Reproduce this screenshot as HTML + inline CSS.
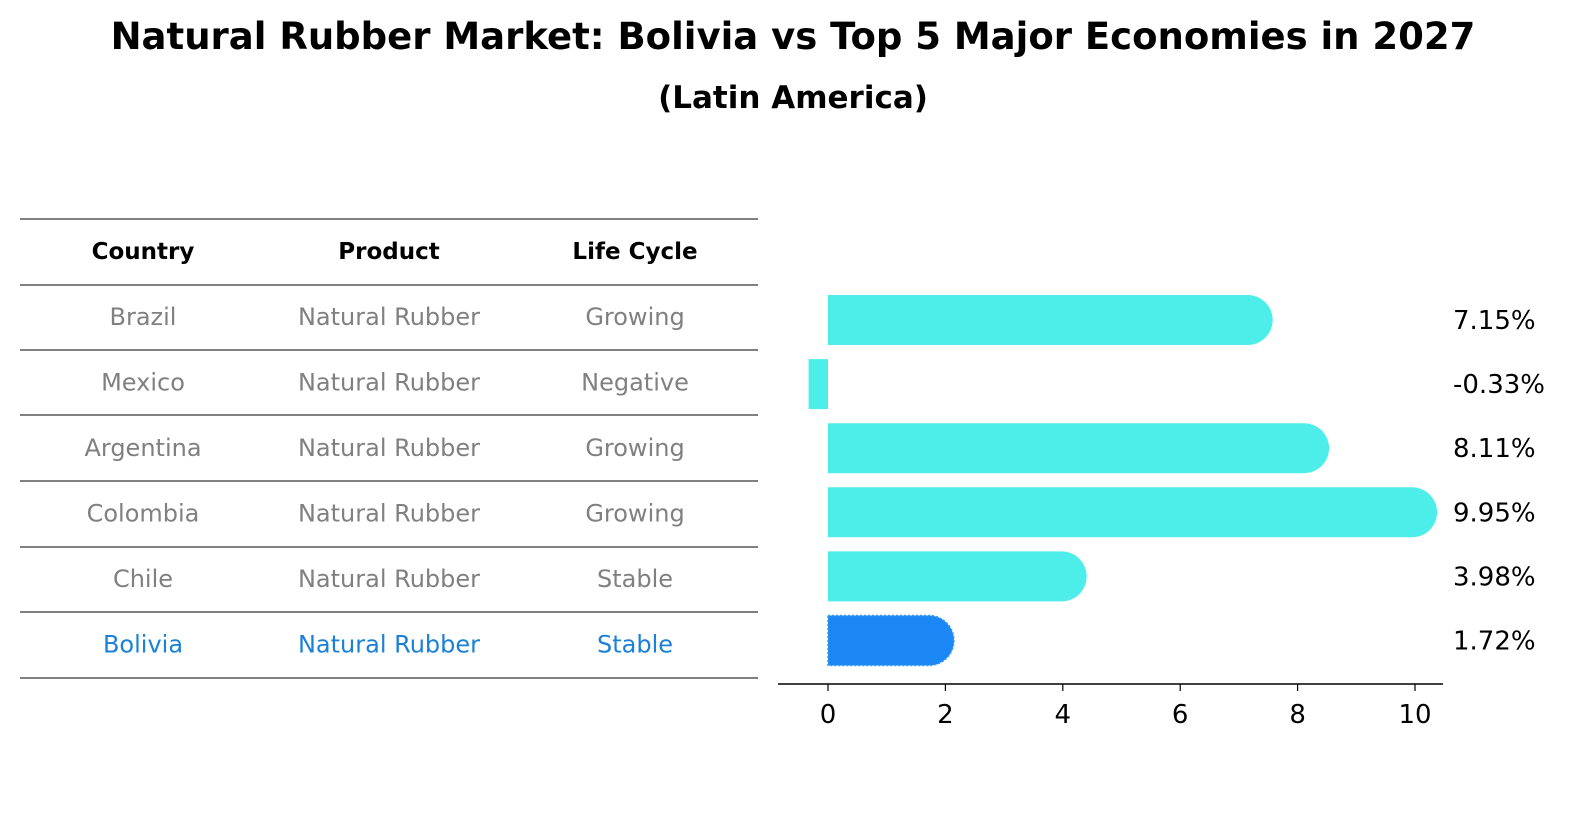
<!DOCTYPE html>
<html><head><meta charset="utf-8"><style>
body{margin:0;background:#fff;font-family:"Liberation Sans","DejaVu Sans",sans-serif;}
svg text{font-family:"DejaVu Sans","Liberation Sans",sans-serif;}
</style></head><body>
<svg width="1596" height="823" viewBox="0 0 1596 823" xmlns="http://www.w3.org/2000/svg">
<text x="793" y="49" text-anchor="middle" font-size="37" font-weight="bold">Natural Rubber Market: Bolivia vs Top 5 Major Economies in 2027</text>
<text x="793" y="108" text-anchor="middle" font-size="31" font-weight="bold">(Latin America)</text>
<g id="table"></g>
<g id="bars"></g>
</svg>
<script>
const countries=["Brazil","Mexico","Argentina","Colombia","Chile","Bolivia"];
const products=["Natural Rubber","Natural Rubber","Natural Rubber","Natural Rubber","Natural Rubber","Natural Rubber"];
const lifeCycles=["Growing","Negative","Growing","Growing","Stable","Stable"];
const values=[7.15,-0.33,8.11,9.95,3.98,1.72];
const ticks=[0,2,4,6,8,10];
const NS="http://www.w3.org/2000/svg";
function mk(t,a,p){const e=document.createElementNS(NS,t);for(const k in a)e.setAttribute(k,a[k]);p.appendChild(e);return e;}
const tbl=document.getElementById('table');
const lineYs=[219,285,350,415,481,547,612,678];
lineYs.forEach(y=>{const l=mk('line',{x1:20,x2:758,y1:y,y2:y,stroke:'#000','stroke-width':1},tbl);

});
const colX=[143,389,635];
["Country","Product","Life Cycle"].forEach((h,i)=>{const t=mk('text',{x:colX[i],y:259,'text-anchor':'middle','font-size':23,'font-weight':'bold'},tbl);t.textContent=h;

});
countries.forEach((c,r)=>{const y=325+r*65.5;const col=c==="Bolivia"?'#1a80d8':'#808080';
[c,products[r],lifeCycles[r]].forEach((v,i)=>{const t=mk('text',{x:colX[i],y:y,'text-anchor':'middle','font-size':24,fill:col},tbl);t.textContent=v;

});});
const g=document.getElementById('bars');
const x0=828,ppu=58.7;const X=v=>x0+v*ppu;
const Y=i=>320+i*64.1;const h=50,r=25;
values.forEach((v,i)=>{const yc=Y(i);const isB=countries[i]==="Bolivia";const fill=isB?'#1a87f5':'#4deeea';
let el;
if(v>=0){const xe=X(v);const d=`M${x0},${yc-h/2} L${xe},${yc-h/2} A${r},${r} 0 0 1 ${xe},${yc+h/2} L${x0},${yc+h/2} Z`;
el=mk('path',{d:d,fill:fill},g);
if(isB){el.setAttribute('stroke','#3a9cf0');el.setAttribute('stroke-dasharray','2,2');el.setAttribute('stroke-width','1.5');}}
else{el=mk('rect',{x:X(v),y:yc-h/2,width:x0-X(v),height:h,fill:fill},g);}


const t=mk('text',{x:1453,y:yc+9,'font-size':26},g);t.textContent=v.toFixed(2)+'%';

});
const ax=mk('line',{x1:778,x2:1443,y1:684,y2:684,stroke:'#000','stroke-width':1.5},g);


ticks.forEach(v=>{const tk=mk('line',{x1:X(v),x2:X(v),y1:684,y2:691,stroke:'#000','stroke-width':1.2},g);


const t=mk('text',{x:X(v),y:723,'text-anchor':'middle','font-size':26},g);t.textContent=v;

});
</script>
</body></html>
